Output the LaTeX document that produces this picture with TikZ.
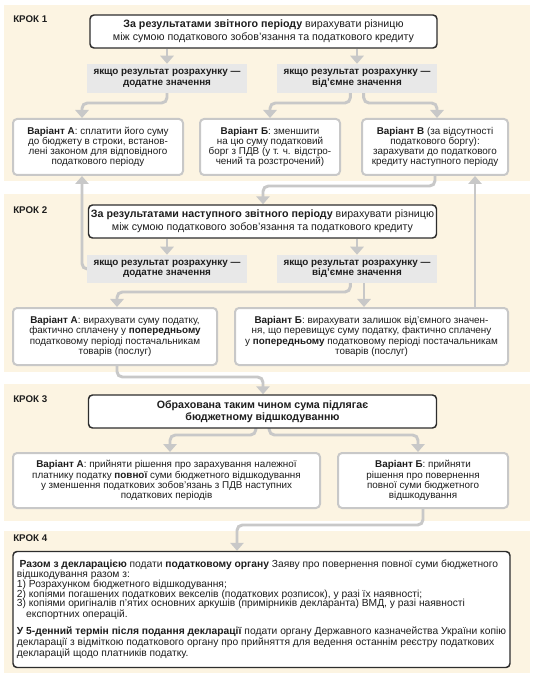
\documentclass[tikz,border=0pt]{standalone}
\usepackage{fontspec}
\setmainfont{Liberation Sans}
\usetikzlibrary{arrows.meta}
\definecolor{panel}{RGB}{252,244,226}
\definecolor{condfill}{RGB}{232,232,232}
\definecolor{connc}{RGB}{200,200,200}
\definecolor{txt}{RGB}{30,30,30}
\definecolor{mainborder}{RGB}{45,45,45}
\pgfdeclarelayer{bg}\pgfdeclarelayer{lines}\pgfsetlayers{bg,lines,main}
\begin{document}
\begin{tikzpicture}[x=0.75pt,y=-0.75pt,
  mainbox/.style={draw=mainborder, line width=1.1pt, fill=white, rounded corners=3pt, align=center, font=\fontsize{8}{9.4}\selectfont, inner sep=0pt, text=txt},
  condbox/.style={fill=condfill, align=center, font=\bfseries\fontsize{7.4}{7.8}\selectfont, inner sep=0pt, text=txt},
  varbox/.style={draw=connc, line width=1.5pt, fill=white, rounded corners=3pt, align=center, font=\fontsize{7.4}{7.6}\selectfont, inner sep=0pt, text=txt},
  steplabel/.style={anchor=west, font=\bfseries\fontsize{7.3}{8}\selectfont, inner sep=0pt, text=txt},
  conn/.style={draw=connc, line width=2.2pt, rounded corners=4pt, -{Triangle[width=10pt,length=6pt]}}]
\useasboundingbox (0,0) rectangle (540,680);
\begin{pgfonlayer}{bg}
\fill[white] (0,0) rectangle (540,680);
\fill[panel] (4,5) rectangle (530,181);
\fill[panel] (4,194) rectangle (530,372);
\fill[panel] (4,384) rectangle (530,521);
\fill[panel] (4,531) rectangle (530,673);
\end{pgfonlayer}

% step labels
\node[steplabel] (s1) at (13,19) {КРОК 1};
\node[steplabel] (s2) at (13,210) {КРОК 2};
\node[steplabel] (s3) at (13,399.5) {КРОК 3};
\node[steplabel] (s4) at (13,538) {КРОК 4};

% step 1
\node[mainbox, minimum width=260.25pt, minimum height=24.75pt] (m1) at (263.5,31.5)
  {\textbf{За результатами звітного періоду} вирахувати різницю\\між сумою податкового зобов’язання та податкового кредиту};
\node[condbox, minimum width=120pt, minimum height=21.75pt] (c1L) at (167,78.5) {якщо результат розрахунку —\\додатне значення};
\node[condbox, minimum width=120pt, minimum height=21.75pt] (c1R) at (357,78.5) {якщо результат розрахунку —\\від’ємне значення};
\node[varbox, minimum width=127.5pt, minimum height=42pt] (a1) at (98,147)
  {\textbf{Варіант А}: сплатити його суму\\до бюджету в строки, встанов-\\лені законом для відповідного\\податкового періоду};
\node[varbox, minimum width=105pt, minimum height=42pt] (b1) at (270,147)
  {\textbf{Варіант Б}: зменшити\\на цю суму податковий\\борг з ПДВ (у т. ч. відстро-\\чений та розстрочений)};
\node[varbox, minimum width=109.5pt, minimum height=42pt] (v1) at (435,147)
  {\textbf{Варіант В} (за відсутності\\податкового боргу):\\зарахувати до податкового\\кредиту наступного періоду};

% step 2
\node[mainbox, minimum width=261pt, minimum height=24.75pt] (m2) at (262.5,221.5)
  {\textbf{За результатами наступного звітного періоду} вирахувати різницю\\між сумою податкового зобов’язання та податкового кредиту};
\node[condbox, minimum width=120pt, minimum height=21pt] (c2L) at (167,269) {якщо результат розрахунку —\\додатне значення};
\node[condbox, minimum width=120pt, minimum height=21pt] (c2R) at (357,269) {якщо результат розрахунку —\\від’ємне значення};
\node[varbox, minimum width=153pt, minimum height=42.75pt] (a2) at (115,336.5)
  {\textbf{Варіант А}: вирахувати суму податку,\\фактично сплачену у \textbf{попередньому}\\податковому періоді постачальникам\\товарів (послуг)};
\node[varbox, minimum width=204.75pt, minimum height=42.75pt] (b2) at (371.5,336.5)
  {\textbf{Варіант Б}: вирахувати залишок від’ємного значен-\\ня, що перевищує суму податку, фактично сплачену\\у \textbf{попередньому} податковому періоді постачальникам\\товарів (послуг)};

% step 3
\node[mainbox, minimum width=261pt, minimum height=24.75pt] (m3) at (262.5,411.5)
  {\textbf{Обрахована таким чином сума підлягає}\\\textbf{бюджетному відшкодуванню}};
\node[varbox, minimum width=230.25pt, minimum height=41.25pt] (a3) at (166.5,480.5)
  {\textbf{Варіант А}: прийняти рішення про зарахування належної\\платнику податку \textbf{повної} суми бюджетного відшкодування\\у зменшення податкових зобов’язань з ПДВ наступних\\податкових періодів};
\node[varbox, minimum width=127.5pt, minimum height=41.25pt] (b3) at (423,480.5)
  {\textbf{Варіант Б}: прийняти\\рішення про повернення\\повної суми бюджетного\\відшкодування};

% step 4
\node[mainbox, align=left, font=\fontsize{7.7}{7.3}\selectfont, minimum width=372.75pt, minimum height=87pt] (m4) at (261.5,609.5)
  {\hspace*{2pt}\textbf{Разом з декларацією} подати \textbf{податковому органу} Заяву про повернення повної суми бюджетного\\
   відшкодування разом з:\\
   1) Розрахунком бюджетного відшкодування;\\
   2) копіями погашених податкових векселів (податкових розписок), у разі їх наявності;\\
   3) копіями оригіналів п’ятих основних аркушів (примірників декларанта) ВМД, у разі наявності\\
   \hspace*{7pt}експортних операцій.\\[4pt]
   \textbf{У 5-денний термін після подання декларації} подати органу Державного казначейства України копію\\
   декларації з відміткою податкового органу про прийняття для ведення останнім реєстру податкових\\
   декларацій щодо платників податку.};

\begin{pgfonlayer}{lines}
% step 1
\draw[conn] (m1.south -| c1L.north) -- (c1L.north);
\draw[conn] (m1.south -| c1R.north) -- (c1R.north);
\coordinate (k1) at (82,103);
\draw[conn] ([yshift=3pt]c1L.south) |- (k1) -- (k1 |- a1.north);
\coordinate (k2) at (270,103);
\draw[conn] ([xshift=-5pt,yshift=3pt]c1R.south) |- (k2) -- (k2 |- b1.north);
\coordinate (k3) at (437,103);
\draw[conn] ([xshift=5pt,yshift=3pt]c1R.south) |- (k3) -- (k3 |- v1.north);
\coordinate (k4) at (263,186);
\draw[conn] ([yshift=3pt]v1.south) |- (k4) -- (k4 |- m2.north);
\coordinate (k5) at (475,0);
\draw[conn] (k5 |- b2.north) -- (k5 |- v1.south);
\draw[conn] ([xshift=5pt]c2L.west) -| (k1 |- a1.south);
% step 2
\draw[conn] (m2.south -| c2L.north) -- (c2L.north);
\draw[conn] (m2.south -| c2R.north) -- (c2R.north);
\coordinate (k6) at (117,292);
\draw[conn] ([xshift=-5pt,yshift=3pt]c2R.south) |- (k6) -- (k6 |- a2.north);
\coordinate (k7) at (364,0);
\draw[conn] (k7 |- c2R.south) -- (k7 |- b2.north);
\coordinate (k8) at (263,377);
\draw[conn] ([yshift=3pt]a2.south -| k6) |- (k8) -- (k8 |- m3.north);
% step 3
\coordinate (k9) at (170,435);
\draw[conn] ([xshift=-5pt,yshift=3pt]m3.south) |- (k9) -- (k9 |- a3.north);
\coordinate (k10) at (418,435);
\draw[conn] ([xshift=5pt,yshift=3pt]m3.south) |- (k10) -- (k10 |- b3.north);
\coordinate (k11) at (237,525);
\draw[conn] ([yshift=3pt]b3.south) |- (k11) -- (k11 |- m4.north);
\end{pgfonlayer}
\end{tikzpicture}
\end{document}
